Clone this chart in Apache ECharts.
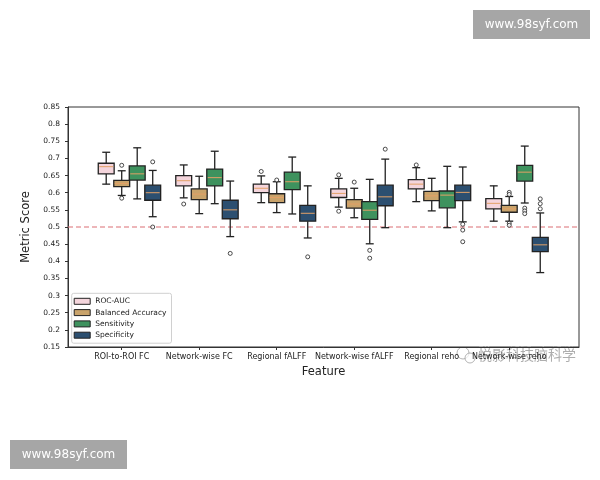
<!DOCTYPE html>
<html>
<head>
<meta charset="utf-8">
<script src="https://cdn.jsdelivr.net/npm/echarts@6/dist/echarts.min.js"></script>
<style>
  html, body { margin: 0; padding: 0; background: #fff; }
  #chart { width: 600px; height: 480px; }
</style>
</head>
<body>
<div id="chart"></div>
<script>
// features on the x axis
var categories = ['ROI-to-ROI FC', 'Network-wise FC', 'Regional fALFF', 'Network-wise fALFF', 'Regional reho', 'Network-wise reho'];
var metricNames = ['ROC-AUC', 'Balanced Accuracy', 'Sensitivity', 'Specificity'];
var yTicks = [0.15, 0.85, 0.05]; // min, max, step

// box stats per feature: [min, Q1, median, Q3, max]
var rocAuc = [
    [0.625, 0.655, 0.676, 0.686, 0.718],
    [0.585, 0.620, 0.635, 0.650, 0.681],
    [0.571, 0.600, 0.613, 0.625, 0.649],
    [0.558, 0.586, 0.598, 0.611, 0.642],
    [0.574, 0.611, 0.625, 0.638, 0.673],
    [0.517, 0.553, 0.569, 0.583, 0.620]
];
var balancedAcc = [
    [0.592, 0.618, 0.627, 0.636, 0.664],
    [0.539, 0.580, 0.596, 0.611, 0.648],
    [0.542, 0.571, 0.586, 0.597, 0.632],
    [0.527, 0.555, 0.567, 0.580, 0.613],
    [0.547, 0.577, 0.591, 0.604, 0.642],
    [0.517, 0.543, 0.553, 0.563, 0.589]
];
var sensitivity = [
    [0.582, 0.637, 0.655, 0.678, 0.731],
    [0.568, 0.620, 0.644, 0.669, 0.721],
    [0.538, 0.609, 0.632, 0.660, 0.704],
    [0.451, 0.522, 0.549, 0.574, 0.639],
    [0.498, 0.556, 0.593, 0.605, 0.677],
    [0.570, 0.634, 0.660, 0.680, 0.736]
];
var specificity = [
    [0.530, 0.578, 0.600, 0.622, 0.665],
    [0.472, 0.524, 0.550, 0.578, 0.634],
    [0.468, 0.517, 0.540, 0.563, 0.620],
    [0.498, 0.562, 0.588, 0.622, 0.698],
    [0.515, 0.577, 0.601, 0.622, 0.675],
    [0.367, 0.428, 0.448, 0.470, 0.541]
];

// outliers: [feature index, value]
var rocAucOut = [[1, 0.567], [2, 0.662], [3, 0.652], [3, 0.546], [4, 0.681]];
var balancedAccOut = [[0, 0.680], [0, 0.584], [2, 0.637], [3, 0.631], [5, 0.601], [5, 0.595], [5, 0.511], [5, 0.505]];
var sensitivityOut = [[3, 0.432], [3, 0.409], [5, 0.555], [5, 0.547], [5, 0.539]];
var specificityOut = [[0, 0.690], [0, 0.500], [1, 0.423], [2, 0.413], [3, 0.727], [4, 0.508], [4, 0.491], [4, 0.457], [5, 0.582], [5, 0.568], [5, 0.553]];

var chanceLevel = 0.5;

var boxes = [rocAuc, balancedAcc, sensitivity, specificity];
var outliers = [rocAucOut, balancedAccOut, sensitivityOut, specificityOut];
var colors = ['#f4d5dc', '#c9a36b', '#3e925e', '#2c4f70'];
var offsets = [-0.2, 0, 0.2, 0.4];   // hue offset from tick, in category units
var BOX_W = 0.205;
var X_MIN = -0.693, X_MAX = 5.9;
var FONT = 'DejaVu Sans';
var CHANCE_COLOR = '#dc6f74';

var myChart = echarts.init(document.getElementById('chart'));

function makeRender(k) {
    return function (params, api) {
        var x = api.value(0) + offsets[k];
        var pMin = api.coord([x, api.value(1)]);
        var pQ1 = api.coord([x, api.value(2)]);
        var pMed = api.coord([x, api.value(3)]);
        var pQ3 = api.coord([x, api.value(4)]);
        var pMax = api.coord([x, api.value(5)]);
        var w = api.size([BOX_W, 0])[0];
        var cx = pMed[0];
        var lw = 1.3;
        var stroke = '#222';
        return {
            type: 'group',
            children: [
                {type: 'line', shape: {x1: cx, y1: pMax[1], x2: cx, y2: pQ3[1]}, style: {stroke: stroke, lineWidth: lw}},
                {type: 'line', shape: {x1: cx, y1: pQ1[1], x2: cx, y2: pMin[1]}, style: {stroke: stroke, lineWidth: lw}},
                {type: 'line', shape: {x1: cx - w / 4, y1: pMax[1], x2: cx + w / 4, y2: pMax[1]}, style: {stroke: stroke, lineWidth: lw}},
                {type: 'line', shape: {x1: cx - w / 4, y1: pMin[1], x2: cx + w / 4, y2: pMin[1]}, style: {stroke: stroke, lineWidth: lw}},
                {type: 'rect', shape: {x: cx - w / 2, y: pQ3[1], width: w, height: pQ1[1] - pQ3[1]},
                    style: {fill: colors[k], stroke: stroke, lineWidth: lw}},
                {type: 'line', shape: {x1: cx - w / 2 + 1, y1: pMed[1], x2: cx + w / 2 - 1, y2: pMed[1]},
                    style: {stroke: '#e3a066', lineWidth: 1}}
            ]
        };
    };
}

var series = [];
// dashed chance line across the whole axis
series.push({
    name: 'chance',
    type: 'line',
    data: [[X_MIN, chanceLevel], [X_MAX, chanceLevel]],
    symbol: 'none',
    silent: true,
    z: 1,
    lineStyle: {color: CHANCE_COLOR, type: [5, 3], width: 1.1}
});
for (let k = 0; k < 4; k++) {
    var rows = [];
    for (let i = 0; i < boxes[k].length; i++) {
        rows.push([i].concat(boxes[k][i]));
    }
    series.push({
        name: metricNames[k],
        type: 'custom',
        renderItem: makeRender(k),
        encode: {x: 0, y: [1, 2, 3, 4, 5]},
        itemStyle: {color: colors[k], borderColor: '#222', borderWidth: 1},
        data: rows,
        z: 3
    });
    // fliers
    var pts = [];
    for (let j = 0; j < outliers[k].length; j++) {
        pts.push([outliers[k][j][0] + offsets[k], outliers[k][j][1]]);
    }
    series.push({
        name: metricNames[k] + ' outliers',
        type: 'scatter',
        symbol: 'circle',
        symbolSize: 4,
        itemStyle: {color: '#fff', borderColor: '#222', borderWidth: 1},
        data: pts,
        z: 4
    });
}

var option = {
    animation: false,
    textStyle: {fontFamily: FONT},
    grid: {
        left: 68,
        right: 21,
        top: 107,
        bottom: 133,
        show: true,
        borderColor: '#333',
        borderWidth: 1
    },
    xAxis: {
        type: 'value',
        min: X_MIN,
        max: X_MAX,
        name: 'Feature',
        nameLocation: 'middle',
        nameGap: 19,
        nameTextStyle: {fontSize: 11.5, color: '#222', fontFamily: FONT},
        axisLine: {show: true, onZero: false, lineStyle: {color: '#333'}},
        axisTick: {show: true, length: 3, customValues: [0, 1, 2, 3, 4, 5], lineStyle: {color: '#333'}},
        axisLabel: {
            customValues: [0, 1, 2, 3, 4, 5],
            fontSize: 8,
            color: '#222',
            margin: 6,
            fontFamily: FONT,
            formatter: function (v) { return categories[Math.round(v)]; }
        },
        splitLine: {show: false}
    },
    yAxis: {
        type: 'value',
        min: yTicks[0],
        max: yTicks[1],
        interval: yTicks[2],
        name: 'Metric Score',
        nameLocation: 'middle',
        nameGap: 31,
        nameTextStyle: {fontSize: 11.5, color: '#222', fontFamily: FONT},
        axisLine: {show: true, onZero: false, lineStyle: {color: '#333'}},
        axisTick: {show: true, length: 3, lineStyle: {color: '#333'}},
        axisLabel: {
            fontSize: 7.5,
            color: '#222',
            margin: 8,
            fontFamily: FONT,
            formatter: function (v) { return String(Math.round(v * 100) / 100); }
        },
        splitLine: {show: false}
    },
    legend: {
        data: metricNames,
        orient: 'vertical',
        left: 71.7,
        top: 293.3,
        padding: [3, 5, 3, 2],
        icon: 'rect',
        itemWidth: 16,
        itemHeight: 6,
        itemGap: 1.3,
        itemStyle: {borderColor: '#222', borderWidth: 1},
        textStyle: {fontSize: 7.5, lineHeight: 10, color: '#222', fontFamily: FONT},
        backgroundColor: '#fff',
        borderColor: '#d0d0d0',
        borderWidth: 1,
        borderRadius: 2,
        selectedMode: false
    },
    graphic: [
        {type: 'rect', left: 473, top: 10, shape: {width: 117, height: 29}, style: {fill: '#a6a6a6'}},
        {type: 'text', x: 531.5, y: 24.5, style: {text: 'www.98syf.com', fill: '#fff', font: '12px "DejaVu Sans"', textAlign: 'center', textVerticalAlign: 'middle'}},
        {type: 'rect', left: 10, top: 440, shape: {width: 117, height: 29}, style: {fill: '#a6a6a6'}},
        {type: 'text', x: 68.5, y: 454.5, style: {text: 'www.98syf.com', fill: '#fff', font: '12px "DejaVu Sans"', textAlign: 'center', textVerticalAlign: 'middle'}},
        {type: 'circle', shape: {cx: 463, cy: 353, r: 6}, style: {fill: 'rgba(255,255,255,0.7)', stroke: 'rgba(150,150,150,0.7)', lineWidth: 1}},
        {type: 'circle', shape: {cx: 470, cy: 358, r: 5}, style: {fill: 'rgba(255,255,255,0.7)', stroke: 'rgba(150,150,150,0.7)', lineWidth: 1}},
        {type: 'text', x: 478, y: 355, style: {text: '悦影科技脑科学', fill: 'rgba(140,140,140,0.7)', stroke: 'rgba(255,255,255,0.85)', lineWidth: 2.5, font: '14px "Noto Sans CJK SC"', textVerticalAlign: 'middle'}}
    ],
    series: series
};

myChart.setOption(option);
</script>
</body>
</html>
